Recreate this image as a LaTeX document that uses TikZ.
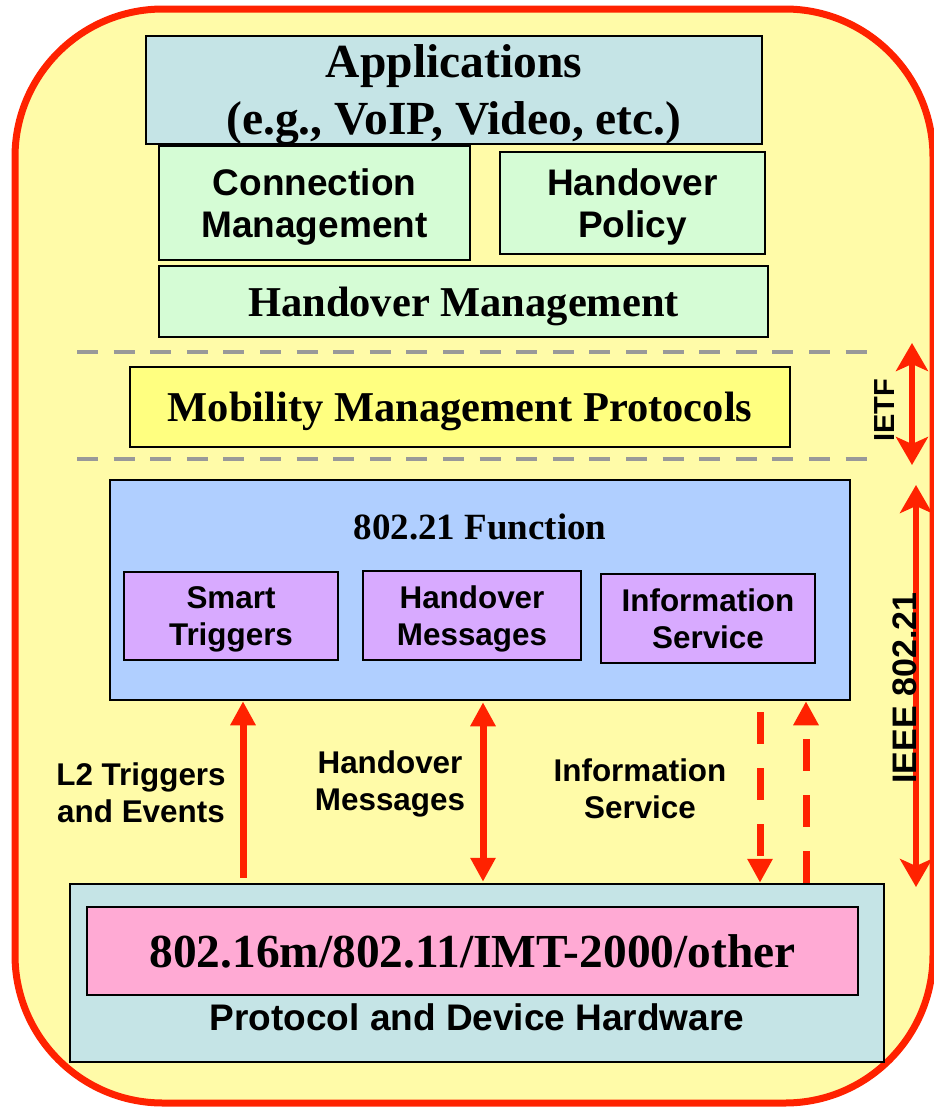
\documentclass[tikz,border=0pt]{standalone}
\usepackage{fontspec}
\setmainfont{Liberation Serif}
\setsansfont{Liberation Sans}
\usetikzlibrary{arrows.meta}
\definecolor{framered}{HTML}{FF2200}
\definecolor{frameyellow}{HTML}{FFFBA8}
\definecolor{appcyan}{HTML}{C5E4E6}
\definecolor{mgmtgreen}{HTML}{D5FCD5}
\definecolor{protoyellow}{HTML}{FFFF80}
\definecolor{funcblue}{HTML}{B0CFFF}
\definecolor{funcpurple}{HTML}{D8AAFF}
\definecolor{techpink}{HTML}{FFAAD4}
\definecolor{layergrey}{HTML}{999999}
\tikzset{
  box/.style={draw, line width=2.5pt, inner sep=0pt, align=center, text depth=0pt},
  serifbig/.style={font=\fontsize{47.5}{57}\selectfont\bfseries},
  serifmid/.style={font=\fontsize{42.5}{50}\selectfont\bfseries},
  sansbig/.style={font=\fontsize{37}{42}\selectfont\sffamily\bfseries},
  sanssmall/.style={font=\fontsize{31.4}{37}\selectfont\sffamily\bfseries},
  layerline/.style={draw=layergrey, line width=4.5pt, dash pattern=on 21pt off 15.6pt},
  sidearrow/.style={draw=framered, line width=6pt, {Stealth[length=28pt,width=32pt,inset=7pt]}-{Stealth[length=28pt,width=32pt,inset=7pt]}},
  midarrow/.style={draw=framered, line width=7pt, -{Triangle[length=24pt,width=24pt]}},
  dualarrow/.style={draw=framered, line width=7pt, {Triangle[length=24pt,width=24pt]}-{Triangle[length=24pt,width=24pt]}},
  dasharrow/.style={midarrow, dash pattern=on 32pt off 24pt}
}
\begin{document}
\begin{tikzpicture}[x=1pt, y=-1pt]
  \useasboundingbox (0,0) rectangle (934,1109);
  \draw[draw=framered, fill=frameyellow, line width=7pt, rounded corners=148pt] (15,9) rectangle (933,1103);

  % upper layers
  \node[box, fill=appcyan, serifbig, minimum width=616pt, minimum height=108pt] (apps) at (454,90) {Applications\\(e.g., VoIP, Video, etc.)};
  \node[box, fill=mgmtgreen, sansbig, minimum width=311pt, minimum height=114pt] (connmgmt) at (314.5,203) {Connection\\Management};
  \node[box, fill=mgmtgreen, sansbig, minimum width=265pt, minimum height=102pt] (hopolicy) at (632.5,203) {Handover\\Policy};
  \node[box, fill=mgmtgreen, serifmid, minimum width=609pt, minimum height=71pt] (homgmt) at (463.5,301.5) {Handover Management};

  \draw[layerline] (77,352) -- (872,352);
  \node[box, fill=protoyellow, serifmid, minimum width=660pt, minimum height=80pt] (mmp) at (460,407) {Mobility Management Protocols};
  \draw[layerline] (77,459) -- (872,459);

  % 802.21 function
  \node[box, fill=funcblue, minimum width=740pt, minimum height=220pt] (func) at (480,590) {};
  \node[font=\fontsize{37}{42}\selectfont\bfseries] (functitle) at (480,527) {802.21 Function};
  \node[box, fill=funcpurple, sanssmall, minimum width=214pt, minimum height=88pt] (smart) at (231,616) {Smart\\Triggers};
  \node[box, fill=funcpurple, sanssmall, minimum width=218pt, minimum height=89pt] (homsg) at (472,615.5) {Handover\\Messages};
  \node[box, fill=funcpurple, sanssmall, minimum width=214pt, minimum height=89pt] (infosvc) at (708,618.5) {Information\\Service};

  % lower layer
  \node[box, fill=appcyan, minimum width=814pt, minimum height=178pt] (hw) at (477,973) {};
  \node[box, fill=techpink, text depth=, font=\fontsize{47.4}{55}\selectfont\bfseries, minimum width=771pt, minimum height=88pt] (tech) at (472.5,951) {802.16m/802.11/IMT-2000/other};
  \node[font=\fontsize{37}{42}\selectfont\sffamily\bfseries] (hwlabel) at (477,1017) {Protocol and Device Hardware};

  % links between function and hardware
  \coordinate (l2) at (243,0);
  \coordinate (homsgx) at (483,0);
  \coordinate (infodown) at (760,0);
  \coordinate (infoup) at (806,0);
  \draw[midarrow, shorten <=5pt] (hw.north -| l2) -- (func.south -| l2);
  \draw[dualarrow, shorten <=1pt, shorten >=1pt] (func.south -| homsgx) -- (hw.north -| homsgx);
  \draw[dasharrow, shorten <=11pt] (func.south -| infodown) -- (hw.north -| infodown);
  \draw[dasharrow] (hw.north -| infoup) -- (func.south -| infoup);
  \node[sanssmall, align=center] (l2label) at (141,793) {L2 Triggers\\and Events};
  \node[sanssmall, align=center] (homsglabel) at (390,784) {Handover\\Messages};
  \node[sanssmall, align=center] (infolabel) at (640,789) {Information\\Service};

  % scope markers
  \coordinate (ietftop) at (912,343);
  \coordinate (ietfbot) at (912,465);
  \coordinate (ieeetop) at (916,485);
  \coordinate (ieeebot) at (916,887);
  \draw[sidearrow] (ietftop) -- (ietfbot);
  \draw[sidearrow] (ieeetop) -- (ieeebot);
  \node[rotate=90, font=\fontsize{29}{34}\selectfont\sffamily\bfseries] (ietf) at (885,410) {IETF};
  \node[rotate=90, font=\fontsize{34}{40}\selectfont\sffamily\bfseries] (ieee) at (905,688) {IEEE 802.21};
\end{tikzpicture}
\end{document}
